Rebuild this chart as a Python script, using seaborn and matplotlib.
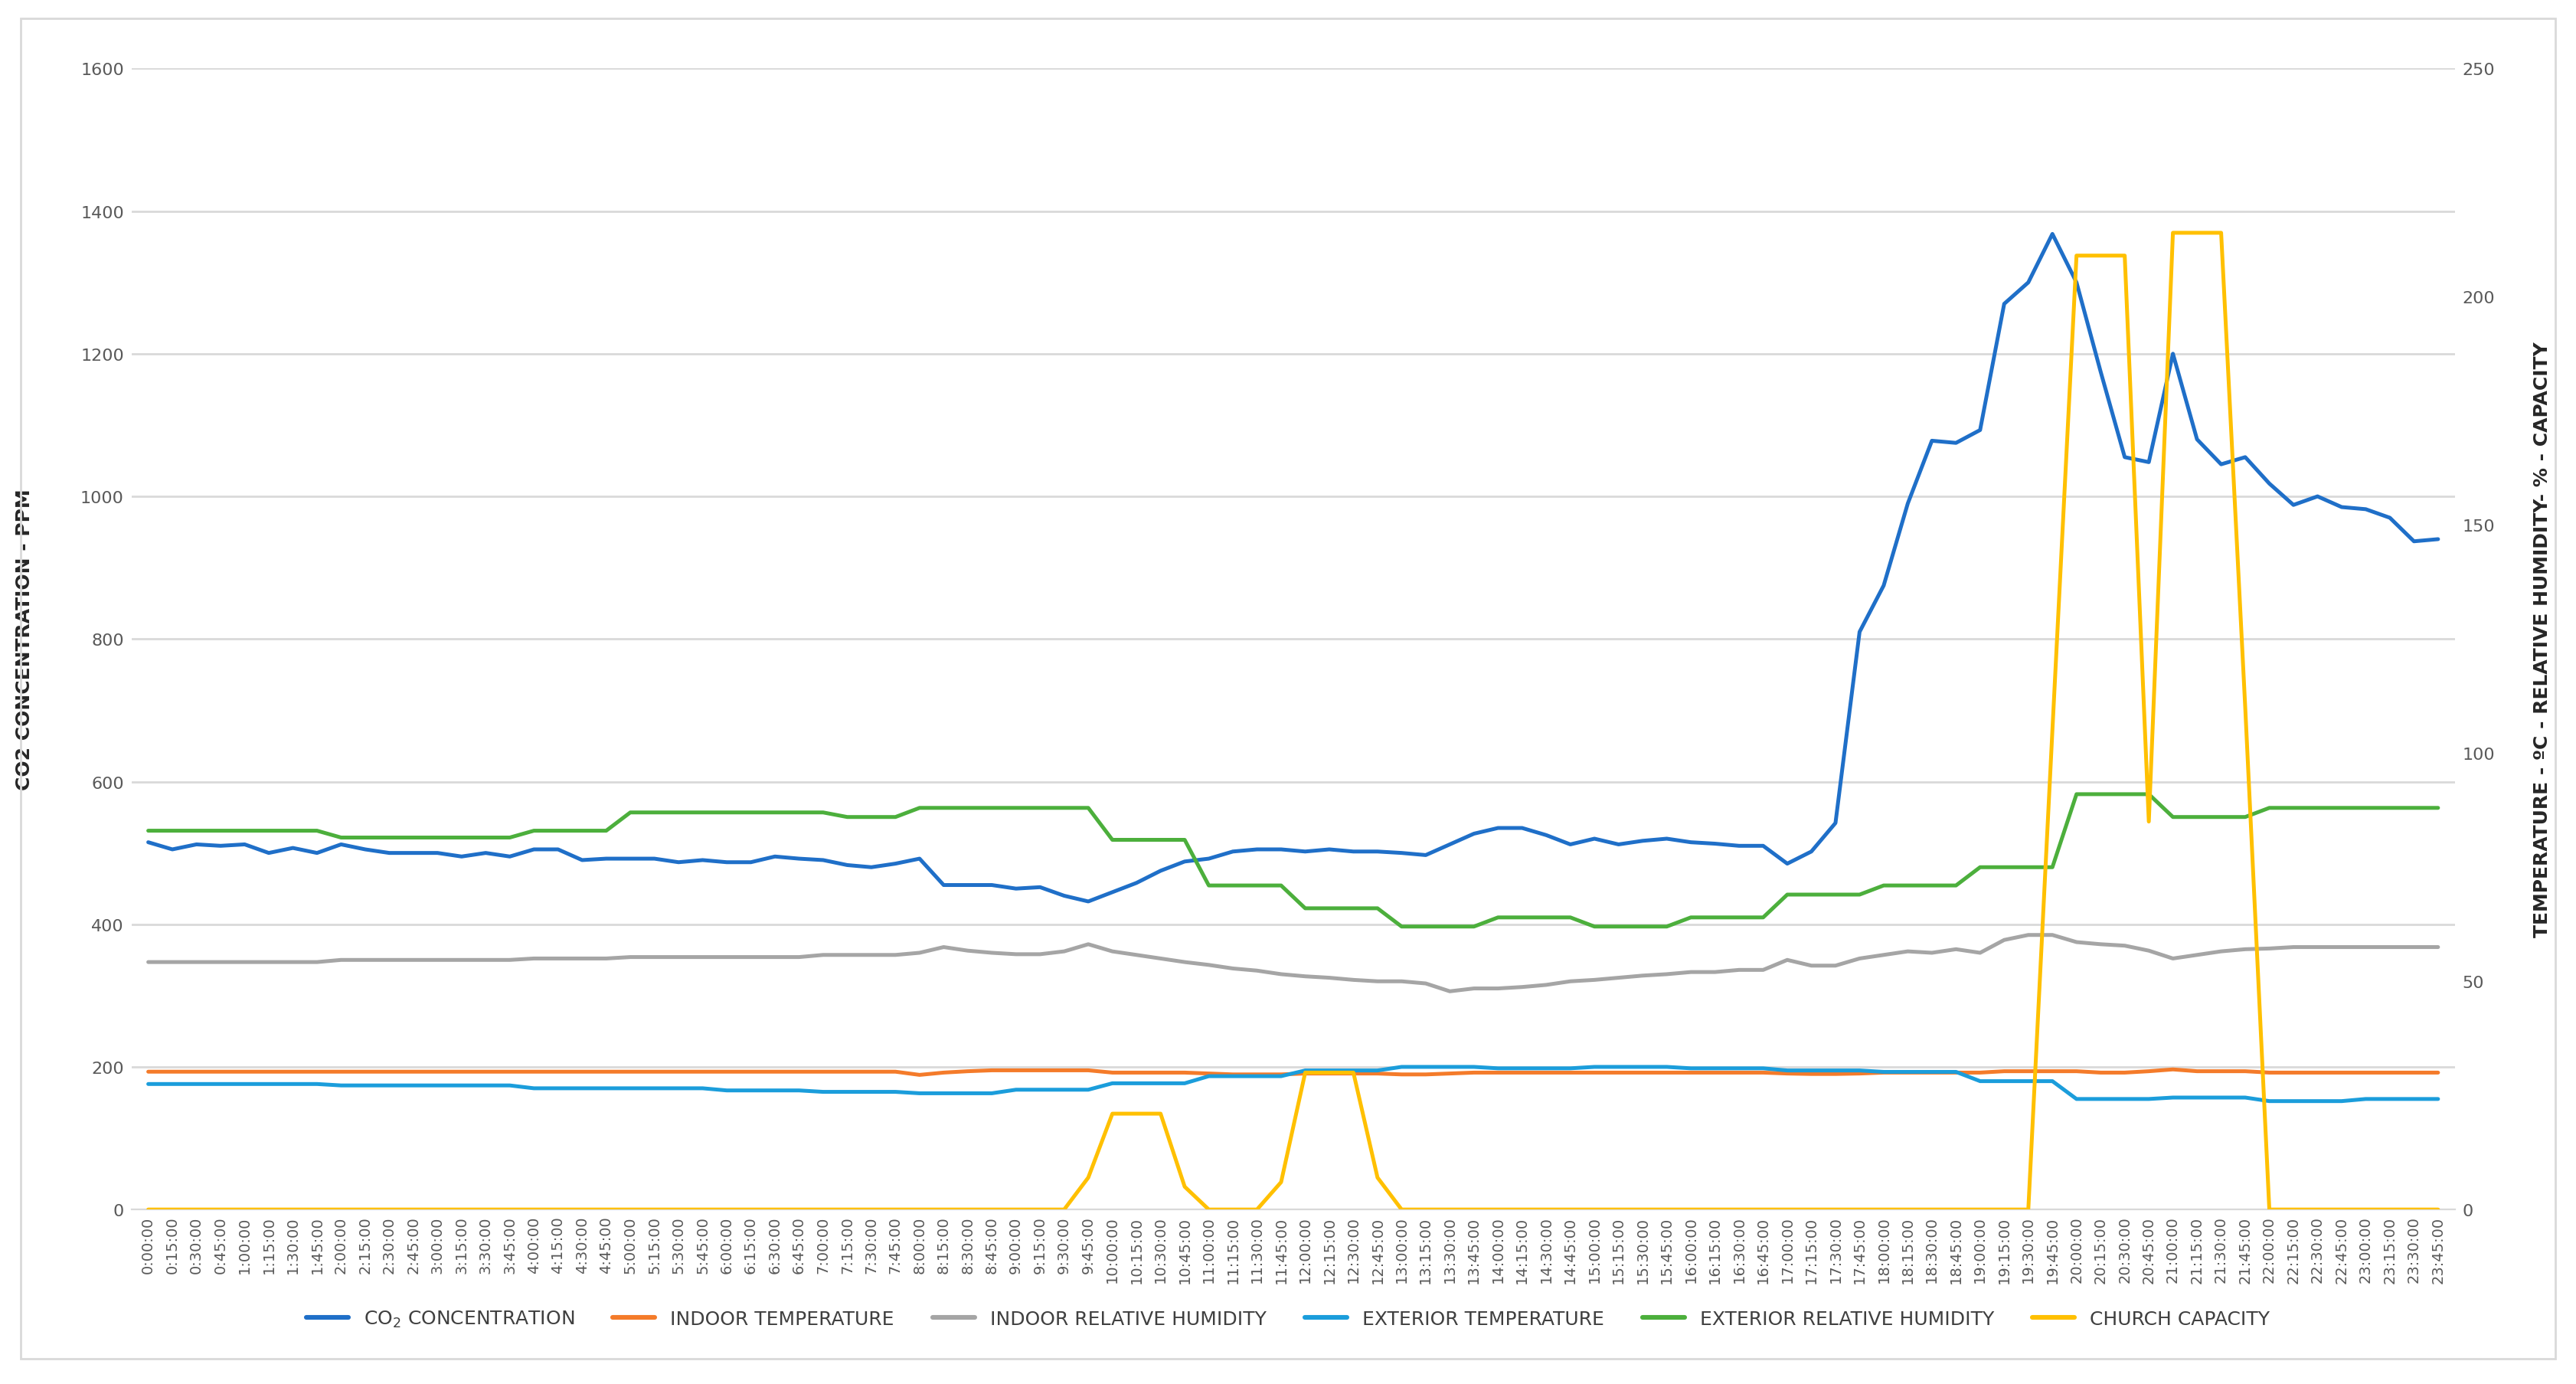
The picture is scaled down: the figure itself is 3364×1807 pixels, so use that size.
import numpy as np
import pandas as pd
import matplotlib
matplotlib.use("Agg")
import matplotlib.pyplot as plt
import seaborn as sns
from matplotlib.lines import Line2D

times = [f"{h}:{m:02d}:00" for h in range(24) for m in (0, 15, 30, 45)]

co2 = [515,505,512,510,512,500,507,500,512,505,500,500,500,495,500,495,
       505,505,490,492,492,492,487,490,487,487,495,492,490,483,480,485,
       492,455,455,455,450,452,440,432,445,458,475,488,492,502,505,505,
       502,505,502,502,500,497,512,527,535,535,525,512,520,512,517,520,
       515,513,510,510,485,502,542,810,875,990,1078,1075,1093,1270,1300,1368,
       1300,1175,1055,1048,1200,1080,1045,1055,1018,988,1000,985,982,970,937,940]

indoor_temp = ([30.2]*32 +
               [29.5,30.0,30.3,30.5,30.5,30.5,30.5,30.5] +
               [30.0,30.0,30.0,30.0,29.8,29.6,29.6,29.6] +
               [29.8,29.8,29.8,29.8,29.6,29.6,29.8,30.0] +
               [30.0]*12 +
               [29.8,29.7,29.7,29.8] +
               [30.0,30.0,30.0,30.0,30.0,30.3,30.3,30.3] +
               [30.3,30.0,30.0,30.3,30.7,30.3,30.3,30.3] +
               [30.0]*8)

indoor_rh_ppm = [347]*8 + [350]*8 + [352]*4 + [354]*8 + [357]*4 + [
    360,368,363,360,358,358,362,372,362,357,352,347,343,338,335,330,
    327,325,322,320,320,317,306,310,310,312,315,320,322,325,328,330,
    333,333,336,336,350,342,342,352,357,362,360,365,360,378,385,385,
    375,372,370,363,352,357,362,365,366,368,368,368,368,368,368,368]
indoor_rh = [v * 250 / 1600 for v in indoor_rh_ppm]

ext_temp_ppm = [176]*8 + [174]*8 + [170]*8 + [167]*4 + [165]*4 + [
    163,163,163,163,168,168,168,168,177,177,177,177,187,187,187,187,
    195,195,195,195,200,200,200,200,198,198,198,198,200,200,200,200,
    198,198,198,198,195,195,195,195,193,193,193,193,180,180,180,180,
    155,155,155,155,157,157,157,157,152,152,152,152,155,155,155,155]
ext_temp = [v * 250 / 1600 for v in ext_temp_ppm]

ext_rh = ([83]*8 + [81.5]*8 + [83]*4 + [87]*9 + [86]*3 + [88]*8 +
          [81]*4 + [71]*4 + [66]*4 + [62]*4 + [64]*4 + [62]*4 + [64]*4 +
          [69]*4 + [71]*4 + [75]*4 + [91]*4 + [86]*4 + [88]*8)

capacity = ([0]*39 + [7, 21, 21, 21, 5, 0, 0, 0, 6, 30, 30, 30, 7] +
            [0]*27 + [105, 209, 209, 209, 85, 214, 214, 214, 110] + [0]*8)

df = pd.DataFrame({"t": np.arange(len(times)), "co2": co2, "itemp": indoor_temp,
                   "irh": indoor_rh, "etemp": ext_temp, "erh": ext_rh, "cap": capacity})

sns.set_style("white")
plt.rcParams['font.family'] = ['DejaVu Sans']

fig = plt.figure(figsize=(16.82, 9.04), dpi=200)
ax = fig.add_axes([0.051, 0.126, 0.902, 0.824])
ax2 = ax.twinx()

c_co2, c_it, c_irh, c_et, c_erh, c_cap = "#1F6FC8", "#F47B2A", "#A5A5A5", "#1B9DDB", "#4CAF3C", "#FFC000"
lw = 1.8
sns.lineplot(data=df, x="t", y="co2", ax=ax, color=c_co2, lw=lw)
sns.lineplot(data=df, x="t", y="itemp", ax=ax2, color=c_it, lw=lw)
sns.lineplot(data=df, x="t", y="irh", ax=ax2, color=c_irh, lw=lw)
sns.lineplot(data=df, x="t", y="etemp", ax=ax2, color=c_et, lw=lw)
sns.lineplot(data=df, x="t", y="erh", ax=ax2, color=c_erh, lw=lw)
sns.lineplot(data=df, x="t", y="cap", ax=ax2, color=c_cap, lw=lw)

ax.set_ylim(0, 1600)
ax2.set_ylim(0, 250)
ax.set_xlim(-0.7, len(times) - 0.3)
ax.set_yticks(range(0, 1601, 200))
ax2.set_yticks(range(0, 251, 50))
ax.set_xticks(df["t"])
ax.set_xticklabels(times, rotation=90, fontsize=7, color="#595959")
ax.tick_params(axis="y", labelsize=8, colors="#595959", length=0)
ax2.tick_params(axis="y", labelsize=8, colors="#595959", length=0)
ax.tick_params(axis="x", length=0, pad=3)
ax.grid(axis="y", color="#D9D9D9", lw=1)
ax.set_axisbelow(True)
for a in (ax, ax2):
    for s in a.spines.values():
        s.set_visible(False)
ax.spines["bottom"].set_visible(True)
ax.spines["bottom"].set_color("#D9D9D9")
ax.set_xlabel("")
ax.set_ylabel("CO2 CONCENTRATION - PPM", fontsize=9, fontweight="bold", color="#262626", labelpad=22)
ax2.set_ylabel("TEMPERATURE - ºC - RELATIVE HUMIDITY- % - CAPACITY", fontsize=9,
               fontweight="bold", color="#262626", labelpad=18)

handles = [Line2D([], [], color=c, lw=2.2) for c in (c_co2, c_it, c_irh, c_et, c_erh, c_cap)]
labels = ["CO$_2$ CONCENTRATION", "INDOOR TEMPERATURE", "INDOOR RELATIVE HUMIDITY",
          "EXTERIOR TEMPERATURE", "EXTERIOR RELATIVE HUMIDITY", "CHURCH CAPACITY"]
fig.legend(handles, labels, loc="center", bbox_to_anchor=(0.5, 0.047), ncol=6, frameon=False,
           fontsize=9, handlelength=2.2, columnspacing=2.0, labelcolor="#404040")

fig.patches.append(plt.Rectangle((0.008, 0.018), 0.984, 0.968, transform=fig.transFigure,
                                 fill=False, edgecolor="#D9D9D9", lw=1))
fig.savefig("out.png", dpi=200)
